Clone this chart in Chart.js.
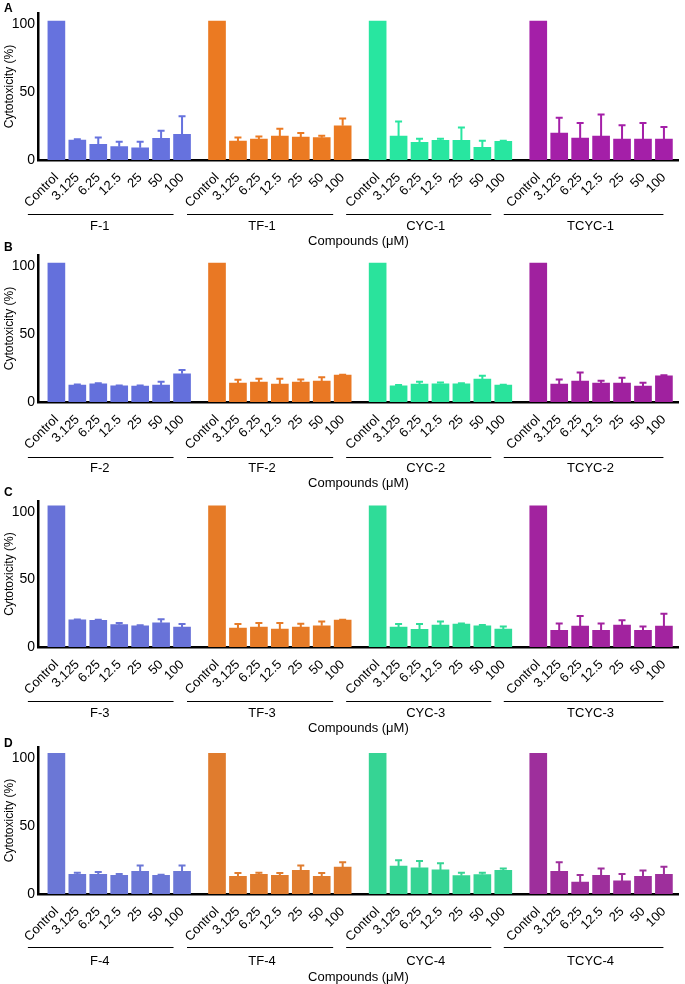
<!DOCTYPE html>
<html><head><meta charset="utf-8">
<script src="https://cdn.jsdelivr.net/npm/chart.js@4.4.1/dist/chart.umd.min.js"></script>
<style>
html,body{margin:0;padding:0;background:#fff;overflow:hidden;width:685px;height:984px;}
#wrap{position:relative;width:685px;height:984px;}
canvas{position:absolute;left:0;}
.lt{position:absolute;left:4px;font:bold 12px 'Liberation Sans',Arial,sans-serif;color:#000;line-height:12px;}
</style></head><body><div id="wrap"></div>
<script>
// ---------- data ----------
const concentrations = ['Control', '3.125', '6.25', '12.5', '25', '50', '100'];
const families = ['F', 'TF', 'CYC', 'TCYC'];
const panelLetters = ['A', 'B', 'C', 'D'];
const yTicks = [0, 50, 100];

// Panel A
const A_F    = [102.1, 14.6, 11.5, 9.8, 9.0, 15.9, 18.8];
const A_F_sd = [0, 0.6, 5.1, 3.6, 4.4, 5.6, 13.4];
const A_TF    = [102.1, 13.9, 15.4, 17.6, 16.8, 16.4, 25.1];
const A_TF_sd = [0, 2.7, 1.9, 5.3, 3.0, 1.4, 5.4];
const A_CYC    = [102.1, 17.6, 12.9, 14.4, 14.4, 9.3, 13.7];
const A_CYC_sd = [0, 10.7, 2.7, 1.2, 9.5, 4.9, 0.5];
const A_TCYC    = [102.1, 19.8, 16.1, 17.6, 15.4, 15.4, 15.4];
const A_TCYC_sd = [0, 11.2, 11.0, 15.9, 10.2, 11.7, 8.8];

// Panel B
const B_F    = [102.1, 12.4, 13.4, 11.9, 11.7, 12.4, 20.7];
const B_F_sd = [0, 0.5, 0.3, 0.3, 0.5, 2.4, 2.9];
const B_TF    = [102.1, 13.9, 14.6, 13.1, 14.6, 15.3, 19.7];
const B_TF_sd = [0, 2.4, 2.4, 3.9, 1.9, 2.9, 0.3];
const B_CYC    = [102.1, 11.9, 13.1, 13.4, 13.4, 16.8, 12.4];
const B_CYC_sd = [0, 0.5, 1.7, 1.0, 0.3, 2.4, 0.2];
const B_TCYC    = [102.1, 13.1, 15.3, 13.9, 13.9, 11.7, 19.2];
const B_TCYC_sd = [0, 3.4, 6.4, 1.7, 3.9, 2.4, 0.5];

// Panel C
const C_F    = [104.4, 20.1, 19.7, 16.5, 15.7, 17.9, 14.7];
const C_F_sd = [0, 0.3, 0.4, 1.2, 0.3, 2.7, 2.3];
const C_TF    = [104.4, 14.0, 14.7, 13.3, 14.7, 15.7, 19.9];
const C_TF_sd = [0, 3.0, 3.0, 4.4, 2.5, 3.2, 0.3];
const C_CYC    = [104.4, 14.7, 13.0, 16.2, 17.0, 15.7, 13.3];
const C_CYC_sd = [0, 2.3, 4.0, 2.7, 0.3, 0.5, 1.9];
const C_TCYC    = [104.4, 12.3, 15.5, 12.3, 16.2, 12.3, 15.5];
const C_TCYC_sd = [0, 5.1, 7.4, 5.1, 3.5, 2.9, 9.1];

// Panel D
const D_F    = [103.4, 14.5, 14.5, 13.8, 16.7, 13.8, 16.7];
const D_F_sd = [0, 1.2, 1.7, 0.9, 4.2, 0.3, 4.2];
const D_TF    = [103.4, 13.0, 14.5, 13.8, 17.4, 13.0, 19.7];
const D_TF_sd = [0, 2.5, 1.2, 1.7, 3.5, 2.5, 3.6];
const D_CYC    = [103.4, 20.6, 19.2, 17.7, 13.5, 14.3, 17.4];
const D_CYC_sd = [0, 4.2, 5.1, 4.9, 2.2, 1.4, 1.3];
const D_TCYC    = [103.4, 16.7, 8.8, 13.8, 9.6, 13.0, 14.5];
const D_TCYC_sd = [0, 6.6, 5.2, 4.9, 5.1, 4.2, 5.6];

const panelMeans = [
  [A_F, A_TF, A_CYC, A_TCYC],
  [B_F, B_TF, B_CYC, B_TCYC],
  [C_F, C_TF, C_CYC, C_TCYC],
  [D_F, D_TF, D_CYC, D_TCYC]
];
const panelSds = [
  [A_F_sd, A_TF_sd, A_CYC_sd, A_TCYC_sd],
  [B_F_sd, B_TF_sd, B_CYC_sd, B_TCYC_sd],
  [C_F_sd, C_TF_sd, C_CYC_sd, C_TCYC_sd],
  [D_F_sd, D_TF_sd, D_CYC_sd, D_TCYC_sd]
];

// ---------- styles / layout ----------
const palettes = [
  ['#6672de', '#eb7a22', '#28e6a0', '#a41fa8'],
  ['#6470dc', '#e97824', '#2ae39c', '#a0219f'],
  ['#6872d8', '#e67b27', '#2fdc98', '#a2239f'],
  ['#6b77d6', '#e07c2e', '#36d494', '#9e2f9c']
];
const LAYOUT = [
  {top: 0,   plotH: 147, xH: 89, lineOff: 54, nameOff: 66, letterTop: 2},
  {top: 242, plotH: 147, xH: 89, lineOff: 55, nameOff: 66, letterTop: 241},
  {top: 488, plotH: 146, xH: 89, lineOff: 54, nameOff: 66, letterTop: 486},
  {top: 734, plotH: 147, xH: 91, lineOff: 53, nameOff: 67, letterTop: 737}
];
const PAD_TOP = 13;
const GROUP_STRIDE = 7.67;
const X_MIN = -0.878, X_MAX = 29.72;
const LINE_START = [28.5, 30, 31.5, 34.5];
const LINE_END = [8.5, 9.5, 12, 0.5];
const NAME_SHIFT = [-1, 2, 7, 7];
const FONT = "'Liberation Sans', Arial, Helvetica, sans-serif";

const pos = (g, i) => g * GROUP_STRIDE + i;
const tickPositions = [];
families.forEach((f, g) => concentrations.forEach((c, i) => tickPositions.push(pos(g, i))));

Chart.defaults.font.family = FONT;
Chart.defaults.color = '#000';

const errorBars = {
  id: 'errorBars',
  afterDatasetsDraw(chart) {
    const ctx = chart.ctx, ys = chart.scales.y;
    chart.data.datasets.forEach((ds, di) => {
      const meta = chart.getDatasetMeta(di);
      meta.data.forEach((bar, i) => {
        const sd = ds.sd[i];
        if (!sd) return;
        const top = ys.getPixelForValue(ds.data[i].y + sd);
        ctx.save();
        ctx.strokeStyle = ds.backgroundColor;
        ctx.lineWidth = 2;
        ctx.beginPath();
        ctx.moveTo(bar.x, bar.y);
        ctx.lineTo(bar.x, top);
        ctx.moveTo(bar.x - 3.5, top);
        ctx.lineTo(bar.x + 3.5, top);
        ctx.stroke();
        ctx.restore();
      });
    });
  }
};

const groupLabels = {
  id: 'groupLabels',
  afterDraw(chart, args, opts) {
    const xs = chart.scales.x, ctx = chart.ctx, base = chart.chartArea.bottom;
    ctx.save();
    families.forEach((f, g) => {
      const x1 = xs.getPixelForValue(pos(g, 0)) - LINE_START[g];
      const x2 = xs.getPixelForValue(pos(g, concentrations.length - 1)) - LINE_END[g];
      ctx.strokeStyle = '#000';
      ctx.lineWidth = 1;
      ctx.beginPath();
      ctx.moveTo(x1, Math.round(base + opts.lineOff) + 0.5);
      ctx.lineTo(x2, Math.round(base + opts.lineOff) + 0.5);
      ctx.stroke();
      ctx.fillStyle = '#000';
      ctx.font = '13px ' + FONT;
      ctx.textAlign = 'center';
      ctx.textBaseline = 'middle';
      ctx.fillText(f + '-' + opts.num, (x1 + x2) / 2 + NAME_SHIFT[g], base + opts.nameOff);
    });
    ctx.restore();
  }
};

const wrap = document.getElementById('wrap');
panelLetters.forEach((letter, p) => {
  const L = LAYOUT[p];
  const lt = document.createElement('div');
  lt.className = 'lt';
  lt.style.top = L.letterTop + 'px';
  lt.textContent = letter;

  const cv = document.createElement('canvas');
  cv.width = 685;
  cv.height = PAD_TOP + L.plotH + L.xH;
  cv.style.top = L.top + 'px';
  cv.style.width = '685px';
  cv.style.height = cv.height + 'px';
  wrap.appendChild(cv);
  wrap.appendChild(lt);

  const datasets = families.map((f, g) => ({
    label: f + '-' + (p + 1),
    data: panelMeans[p][g].map((v, i) => ({x: pos(g, i), y: v})),
    sd: panelSds[p][g],
    backgroundColor: palettes[p][g],
    borderWidth: 0,
    barThickness: 17,
    grouped: false
  }));

  new Chart(cv, {
    type: 'bar',
    data: {datasets},
    plugins: [errorBars, groupLabels],
    options: {
      responsive: false,
      animation: false,
      devicePixelRatio: 1,
      layout: {padding: {top: PAD_TOP, left: 0, right: 2, bottom: 0}},
      plugins: {
        legend: {display: false},
        tooltip: {enabled: false},
        groupLabels: {num: p + 1, lineOff: L.lineOff, nameOff: L.nameOff}
      },
      scales: {
        x: {
          type: 'linear',
          min: X_MIN,
          max: X_MAX,
          offset: false,
          z: 1,
          grid: {display: false, drawTicks: false},
          border: {display: true, color: '#000', width: 2.5},
          afterBuildTicks: (s) => { s.ticks = tickPositions.map(v => ({value: v})); },
          afterFit: (s) => { s.height = L.xH; },
          ticks: {
            autoSkip: false,
            minRotation: 45,
            maxRotation: 45,
            padding: 10,
            color: '#000',
            font: {size: 13},
            callback: (v, i) => concentrations[i % concentrations.length]
          },
          title: {
            display: true,
            text: 'Compounds (μM)',
            color: '#000',
            font: {size: 13},
            padding: {top: 0, bottom: 0}
          }
        },
        y: {
          min: 0,
          max: 108,
          grid: {display: false, drawTicks: false},
          border: {display: true, color: '#000', width: 2.5},
          afterBuildTicks: (s) => { s.ticks = yTicks.map(v => ({value: v})); },
          afterFit: (s) => { s.width = 38; },
          ticks: {
            padding: 3,
            color: '#000',
            font: {size: 14}
          },
          title: {
            display: true,
            text: 'Cytotoxicity (%)',
            color: '#000',
            font: {size: 12},
            padding: {top: 2, bottom: 0}
          }
        }
      }
    }
  });
});
</script>
</body></html>
